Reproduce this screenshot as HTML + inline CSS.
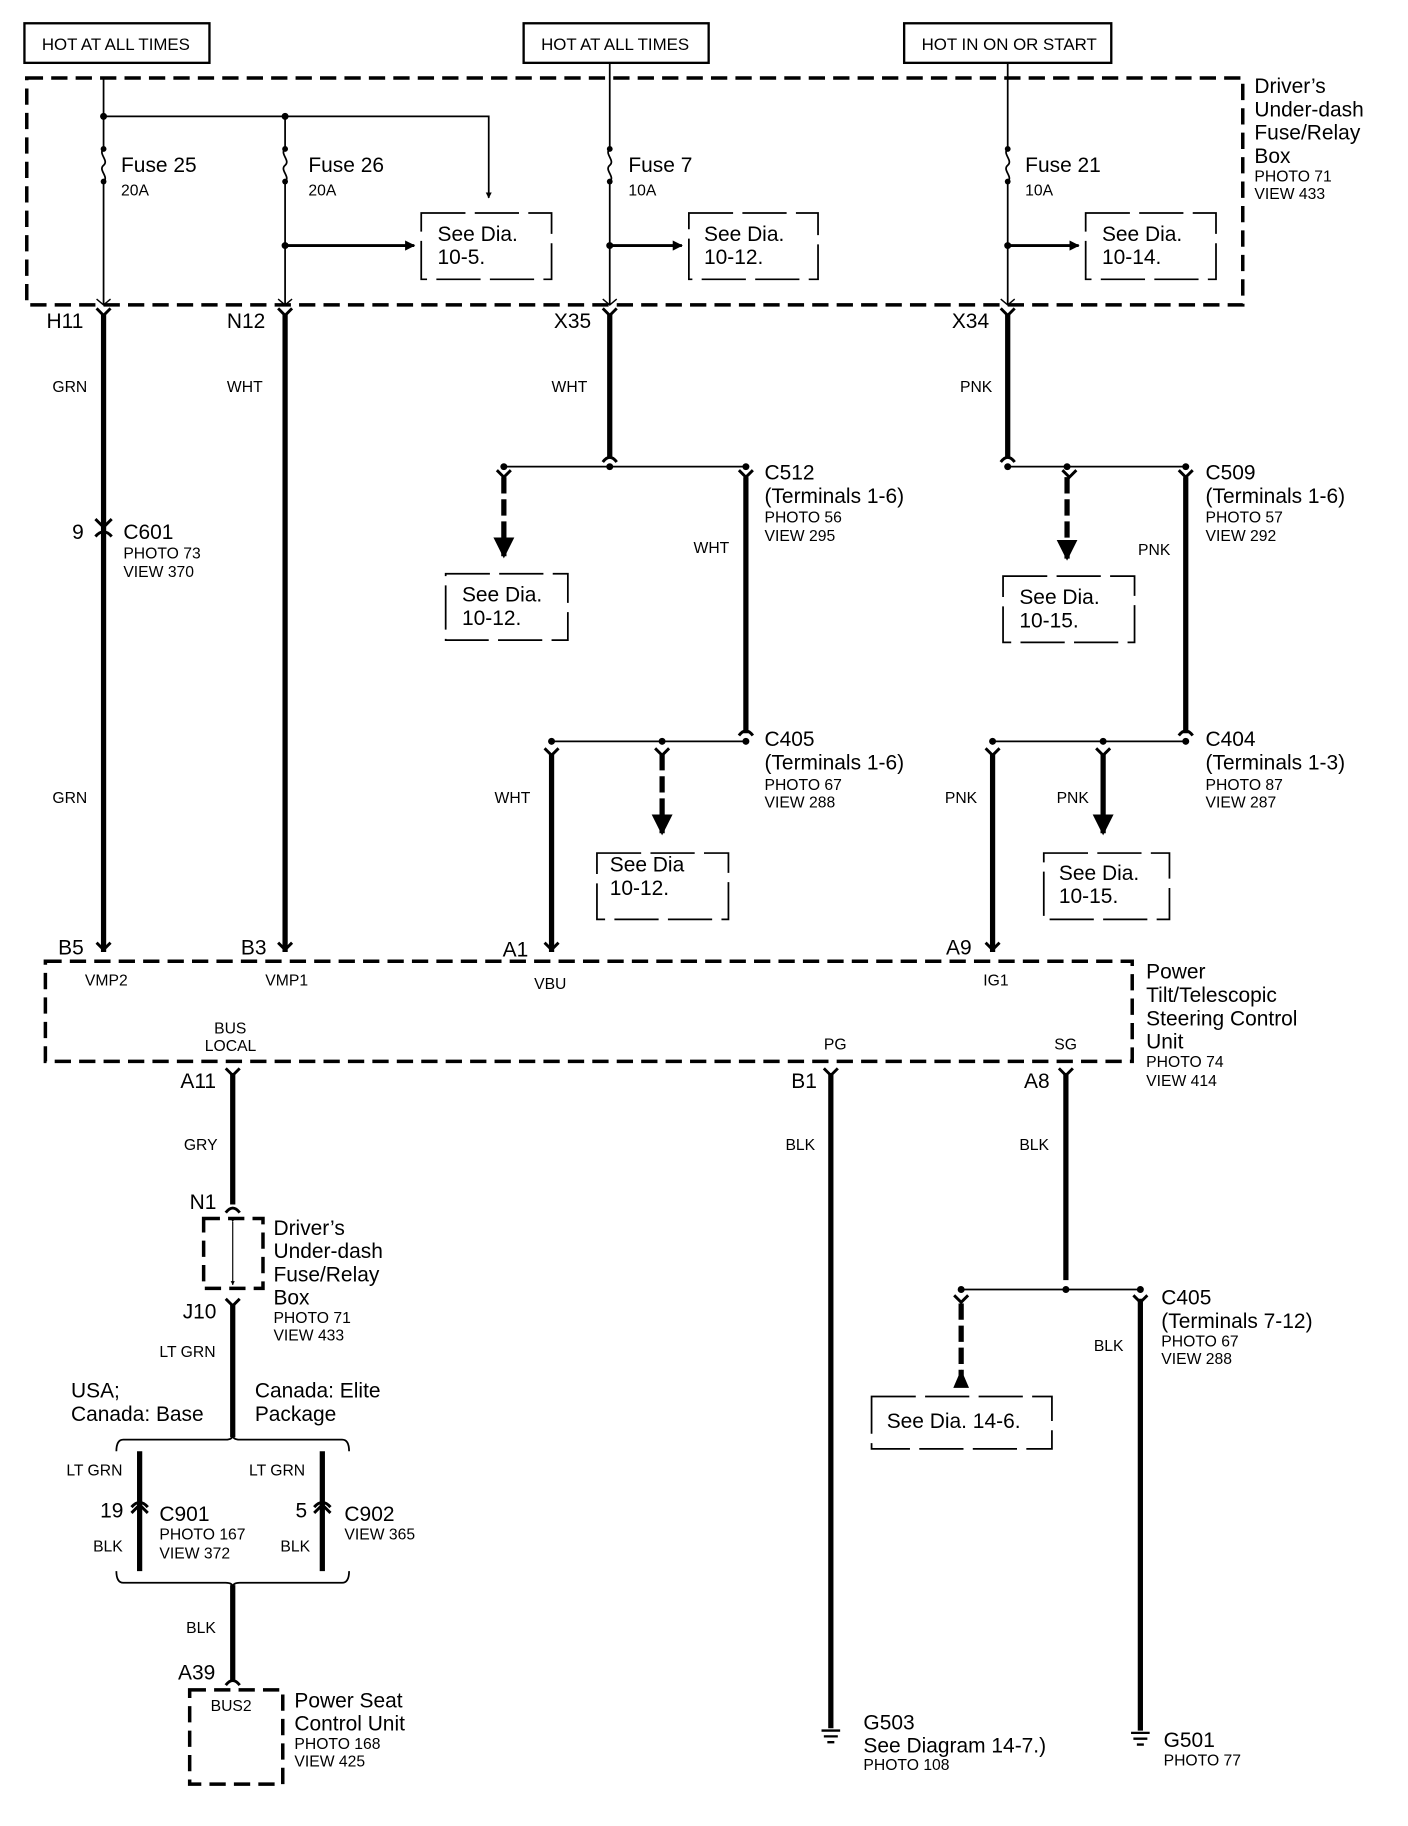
<!DOCTYPE html>
<html><head><meta charset="utf-8"><style>
html,body{margin:0;padding:0;background:#fff}
svg{display:block}
text{font-family:"Liberation Sans",Arial,sans-serif;fill:#000}
.b{font-size:18px}.s{font-size:13.5px}.m{font-size:14.5px}
</style></head><body>
<svg width="1408" height="1826" viewBox="0 0 1210 1569" preserveAspectRatio="none" xmlns="http://www.w3.org/2000/svg">
<defs>
<marker id="ah" viewBox="0 0 10 10" refX="9" refY="5" markerWidth="4" markerHeight="4" orient="auto"><path d="M0 0L10 5L0 10z"/></marker>
<marker id="ah2" viewBox="0 0 10 10" refX="9" refY="5" markerWidth="3.5" markerHeight="3.5" orient="auto"><path d="M0 0L10 5L0 10z"/></marker>
</defs>
<g fill="none" stroke="#000">
<rect x="21" y="20" width="159" height="34" stroke-width="2"/>
<rect x="450" y="20" width="159" height="34" stroke-width="2"/>
<rect x="777" y="20" width="178" height="34" stroke-width="2"/>
<rect x="23" y="67" width="1045" height="195" stroke-width="3" stroke-dasharray="14 7"/>
<g stroke-width="1.5">
<path d="M89 67V128M89 156V262"/>
<path d="M245 100V128M245 156V262"/>
<path d="M524 54V128M524 156V262"/>
<path d="M866 54V128M866 156V262"/>
<path d="M89 100H420V170" marker-end="url(#ah2)"/>
<path d="M89 128c-5 4 5 10 0 14c-5 4 5 10 0 14"/>
<path d="M245 128c-5 4 5 10 0 14c-5 4 5 10 0 14"/>
<path d="M524 128c-5 4 5 10 0 14c-5 4 5 10 0 14"/>
<path d="M866 128c-5 4 5 10 0 14c-5 4 5 10 0 14"/>
</g>
<g stroke-width="2.5">
<path d="M245 211H356" marker-end="url(#ah2)"/>
<path d="M524 211H586" marker-end="url(#ah2)"/>
<path d="M866 211H927" marker-end="url(#ah2)"/>
</g>
<g stroke-width="1.5" stroke-dasharray="38 8">
<rect x="362" y="183" width="112" height="57"/>
<rect x="592" y="183" width="111" height="57"/>
<rect x="933" y="183" width="112" height="57"/>
<rect x="383" y="493" width="105" height="57"/>
<rect x="862" y="495" width="113" height="57"/>
<rect x="513" y="733" width="113" height="57"/>
<rect x="897" y="733" width="108" height="57"/>
<rect x="749" y="1200" width="155" height="45"/>
</g>
<g stroke-width="2.5">
<path d="M83 265l6 6l6-6M239 265l6 6l6-6M518 265l6 6l6-6M860 265l6 6l6-6"/>
<path d="M83 257l6 5l6-5M239 257l6 5l6-5M518 257l6 5l6-5M860 257l6 5l6-5" stroke-width="1.2"/>
<path d="M518 397q6-8 12 0M860 397q6-8 12 0"/>
<path d="M427 404l6 6l6-6M635 404l6 6l6-6M913 404l6 6l6-6M1013 404l6 6l6-6"/>
<path d="M635 632q6-8 12 0M1013 632q6-8 12 0"/>
<path d="M468 643l6 6l6-6M563 643l6 6l6-6M847 643l6 6l6-6M942 643l6 6l6-6"/>
<path d="M83 810l6 6l6-6M239 810l6 6l6-6M468 810l6 6l6-6M847 810l6 6l6-6"/>
<path d="M82 446l7 7l7-7M82 461q7-8 14 0"/>
<path d="M194 918l6 6l6-6M708 918l6 6l6-6M910 918l6 6l6-6"/>
<path d="M194 1042q6-8 12 0M194 1116l6 6l6-6"/>
<path d="M820 1113l6 6l6-6M974 1113l6 6l6-6"/>
<path d="M113 1300l7-7l7 7M113 1295q7-8 14 0M270 1300l7-7l7 7M270 1295q7-8 14 0"/>
<path d="M194 1448q6-8 12 0"/>
</g>
<g stroke-width="4.5">
<path d="M89 270V818M245 270V818M524 270V393M866 270V393"/>
<path d="M641 410V630M1019 410V630M474 648V818M853 648V818"/>
<path d="M200 922V1035M200 1120V1235M120 1247V1350M277 1247V1350M200 1362V1445"/>
<path d="M714 922V1485M916 922V1100M980 1116V1487"/>
</g>
<g stroke-width="4.5">
<path d="M433 410V478" stroke-dasharray="14 5" marker-end="url(#ah)"/>
<path d="M917 410V480" stroke-dasharray="14 5" marker-end="url(#ah)"/>
<path d="M569 648V716" stroke-dasharray="14 5" marker-end="url(#ah)"/>
<path d="M948 648V716" marker-end="url(#ah)"/>
<path d="M826 1120V1182" stroke-dasharray="14 5"/>
</g>
<path d="M820 1192L826 1178L832 1192z" fill="#000" stroke-width="1"/>
<g stroke-width="1.5">
<path d="M433 401H641M866 401H1019M474 637H641M853 637H1019M826 1108H980"/>
<path d="M100 1247q0-10 6-10H194q6 0 6-4q0 4 6 4H294q6 0 6 10"/>
<path d="M100 1350q0 10 6 10H194q6 0 6 4q0-4 6-4H294q6 0 6-10"/>
</g>
<rect x="39" y="826" width="934" height="86" stroke-width="3" stroke-dasharray="14 7"/>
<rect x="175" y="1047" width="51" height="60" stroke-width="3" stroke-dasharray="14 7"/>
<path d="M200 1050V1104" stroke-width="1" marker-start="url(#ah2)" marker-end="url(#ah2)"/>
<rect x="163" y="1452" width="80" height="81" stroke-width="3" stroke-dasharray="14 7"/>
<g stroke-width="2">
<path d="M706 1487h16M708 1492h12M711 1497h6"/>
<path d="M972 1489h16M974 1494h12M977 1499h6"/>
</g>
</g>
<g fill="#000">
<circle cx="89" cy="100" r="3"/><circle cx="245" cy="100" r="3"/>
<circle cx="245" cy="211" r="3"/><circle cx="524" cy="211" r="3"/><circle cx="866" cy="211" r="3"/>
<circle cx="89" cy="128" r="2.5"/><circle cx="89" cy="156" r="2.5"/>
<circle cx="245" cy="128" r="2.5"/><circle cx="245" cy="156" r="2.5"/>
<circle cx="524" cy="128" r="2.5"/><circle cx="524" cy="156" r="2.5"/>
<circle cx="866" cy="128" r="2.5"/><circle cx="866" cy="156" r="2.5"/>
<circle cx="433" cy="401" r="3"/><circle cx="524" cy="401" r="3"/><circle cx="641" cy="401" r="3"/>
<circle cx="866" cy="401" r="3"/><circle cx="917" cy="401" r="3"/><circle cx="1019" cy="401" r="3"/>
<circle cx="474" cy="637" r="3"/><circle cx="569" cy="637" r="3"/><circle cx="641" cy="637" r="3"/>
<circle cx="853" cy="637" r="3"/><circle cx="948" cy="637" r="3"/><circle cx="1019" cy="637" r="3"/>
<circle cx="826" cy="1108" r="3"/><circle cx="916" cy="1108" r="3"/><circle cx="980" cy="1108" r="3"/>
</g>
<text class="m" x="36" y="43">HOT AT ALL TIMES</text>
<text class="m" x="465" y="43">HOT AT ALL TIMES</text>
<text class="m" x="792" y="43">HOT IN ON OR START</text>
<text class="b" x="1078" y="80">Driver’s</text><text class="b" x="1078" y="100">Under-dash</text><text class="b" x="1078" y="120">Fuse/Relay</text><text class="b" x="1078" y="140">Box</text>
<text class="s" x="1078" y="156">PHOTO 71</text><text class="s" x="1078" y="171">VIEW 433</text>
<text class="b" x="104" y="148">Fuse 25</text><text class="s" x="104" y="168">20A</text>
<text class="b" x="265" y="148">Fuse 26</text><text class="s" x="265" y="168">20A</text>
<text class="b" x="540" y="148">Fuse 7</text><text class="s" x="540" y="168">10A</text>
<text class="b" x="881" y="148">Fuse 21</text><text class="s" x="881" y="168">10A</text>
<text class="b" x="376" y="207">See Dia.</text><text class="b" x="376" y="227">10-5.</text>
<text class="b" x="605" y="207">See Dia.</text><text class="b" x="605" y="227">10-12.</text>
<text class="b" x="947" y="207">See Dia.</text><text class="b" x="947" y="227">10-14.</text>
<text class="b" x="40" y="282">H11</text><text class="b" x="195" y="282">N12</text><text class="b" x="476" y="282">X35</text><text class="b" x="818" y="282">X34</text>
<text class="s" x="45" y="337">GRN</text><text class="s" x="195" y="337">WHT</text><text class="s" x="474" y="337">WHT</text><text class="s" x="825" y="337">PNK</text>
<text class="b" x="62" y="463">9</text><text class="b" x="106" y="463">C601</text><text class="s" x="106" y="480">PHOTO 73</text><text class="s" x="106" y="496">VIEW 370</text>
<text class="b" x="657" y="412">C512</text><text class="b" x="657" y="432">(Terminals 1-6)</text><text class="s" x="657" y="449">PHOTO 56</text><text class="s" x="657" y="465">VIEW 295</text>
<text class="b" x="1036" y="412">C509</text><text class="b" x="1036" y="432">(Terminals 1-6)</text><text class="s" x="1036" y="449">PHOTO 57</text><text class="s" x="1036" y="465">VIEW 292</text>
<text class="s" x="596" y="475">WHT</text><text class="s" x="978" y="477">PNK</text>
<text class="b" x="397" y="517">See Dia.</text><text class="b" x="397" y="537">10-12.</text>
<text class="b" x="876" y="519">See Dia.</text><text class="b" x="876" y="539">10-15.</text>
<text class="b" x="657" y="641">C405</text><text class="b" x="657" y="661">(Terminals 1-6)</text><text class="s" x="657" y="679">PHOTO 67</text><text class="s" x="657" y="694">VIEW 288</text>
<text class="b" x="1036" y="641">C404</text><text class="b" x="1036" y="661">(Terminals 1-3)</text><text class="s" x="1036" y="679">PHOTO 87</text><text class="s" x="1036" y="694">VIEW 287</text>
<text class="s" x="45" y="690">GRN</text><text class="s" x="425" y="690">WHT</text><text class="s" x="812" y="690">PNK</text><text class="s" x="908" y="690">PNK</text>
<text class="b" x="524" y="749">See Dia</text><text class="b" x="524" y="769">10-12.</text>
<text class="b" x="910" y="756">See Dia.</text><text class="b" x="910" y="776">10-15.</text>
<text class="b" x="50" y="820">B5</text><text class="b" x="207" y="820">B3</text><text class="b" x="432" y="822">A1</text><text class="b" x="813" y="820">A9</text>
<text class="s" x="73" y="847">VMP2</text><text class="s" x="228" y="847">VMP1</text><text class="s" x="459" y="850">VBU</text><text class="s" x="845" y="847">IG1</text>
<text class="b" x="985" y="841">Power</text><text class="b" x="985" y="861">Tilt/Telescopic</text><text class="b" x="985" y="881">Steering Control</text><text class="b" x="985" y="901">Unit</text>
<text class="s" x="985" y="917">PHOTO 74</text><text class="s" x="985" y="933">VIEW 414</text>
<text class="s" x="184" y="888">BUS</text><text class="s" x="176" y="903">LOCAL</text>
<text class="s" x="708" y="902">PG</text><text class="s" x="906" y="902">SG</text>
<text class="b" x="155" y="935">A11</text><text class="b" x="680" y="935">B1</text><text class="b" x="880" y="935">A8</text>
<text class="s" x="158" y="988">GRY</text><text class="s" x="675" y="988">BLK</text><text class="s" x="876" y="988">BLK</text>
<text class="b" x="163" y="1039">N1</text>
<text class="b" x="235" y="1061">Driver’s</text><text class="b" x="235" y="1081">Under-dash</text><text class="b" x="235" y="1101">Fuse/Relay</text><text class="b" x="235" y="1121">Box</text>
<text class="s" x="235" y="1137">PHOTO 71</text><text class="s" x="235" y="1152">VIEW 433</text>
<text class="b" x="157" y="1133">J10</text><text class="s" x="137" y="1166">LT GRN</text>
<text class="b" x="61" y="1201">USA;</text><text class="b" x="61" y="1221">Canada: Base</text>
<text class="b" x="219" y="1201">Canada: Elite</text><text class="b" x="219" y="1221">Package</text>
<text class="s" x="57" y="1268">LT GRN</text><text class="s" x="214" y="1268">LT GRN</text>
<text class="b" x="86" y="1304">19</text><text class="b" x="137" y="1307">C901</text><text class="s" x="137" y="1323">PHOTO 167</text><text class="s" x="137" y="1339">VIEW 372</text>
<text class="b" x="254" y="1304">5</text><text class="b" x="296" y="1307">C902</text><text class="s" x="296" y="1323">VIEW 365</text>
<text class="s" x="80" y="1333">BLK</text><text class="s" x="241" y="1333">BLK</text>
<text class="s" x="160" y="1403">BLK</text>
<text class="b" x="153" y="1443">A39</text><text class="s" x="181" y="1470">BUS2</text>
<text class="b" x="253" y="1467">Power Seat</text><text class="b" x="253" y="1487">Control Unit</text><text class="s" x="253" y="1503">PHOTO 168</text><text class="s" x="253" y="1518">VIEW 425</text>
<text class="b" x="998" y="1121">C405</text><text class="b" x="998" y="1141">(Terminals 7-12)</text><text class="s" x="998" y="1157">PHOTO 67</text><text class="s" x="998" y="1172">VIEW 288</text>
<text class="s" x="940" y="1161">BLK</text>
<text class="b" x="762" y="1227">See Dia. 14-6.</text>
<text class="b" x="742" y="1486">G503</text><text class="b" x="742" y="1506">See Diagram 14-7.)</text><text class="s" x="742" y="1521">PHOTO 108</text>
<text class="b" x="1000" y="1501">G501</text><text class="s" x="1000" y="1517">PHOTO 77</text>
</svg>
</body></html>
